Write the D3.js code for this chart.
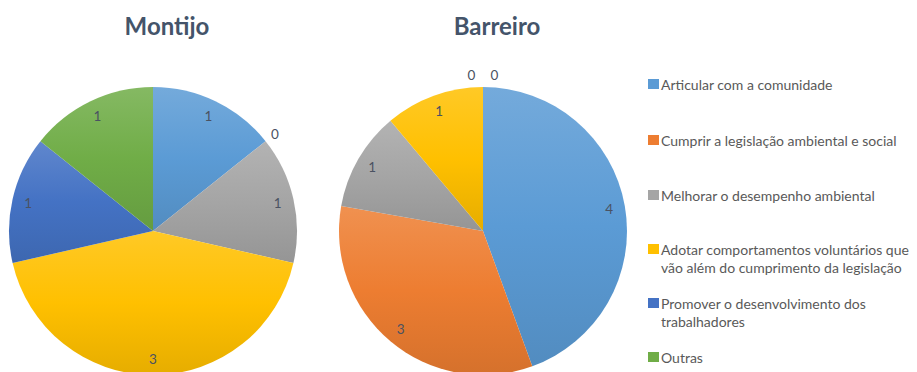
<!DOCTYPE html>
<html>
<head>
<meta charset="utf-8">
<script src="https://cdn.jsdelivr.net/npm/d3@7/dist/d3.min.js"></script>
<style>
  html, body { margin: 0; padding: 0; background: #ffffff; }
  svg { display: block; }
</style>
</head>
<body>
<svg id="chart" width="917" height="372"></svg>
<script>
// Motivations, in legend order
const categories = [
  "Articular com a comunidade",
  "Cumprir a legislação ambiental e social",
  "Melhorar o desempenho ambiental",
  "Adotar comportamentos voluntários que vão além do cumprimento da legislação",
  "Promover o desenvolvimento dos trabalhadores",
  "Outras"
];
// Legend text split into lines
const legendLines = [
  ["Articular com a comunidade"],
  ["Cumprir a legislação ambiental e social"],
  ["Melhorar o desempenho ambiental"],
  ["Adotar comportamentos voluntários que", "vão além do cumprimento da legislação"],
  ["Promover o desenvolvimento dos", "trabalhadores"],
  ["Outras"]
];
const colors = ["#5B9BD5", "#ED7D31", "#A5A5A5", "#FFC000", "#4472C4", "#70AD47"];

const montijoValues  = [1, 0, 1, 3, 1, 1];
const barreiroValues = [4, 3, 1, 1, 0, 0];

const FONT = "Lato, Open Sans, Noto Sans, sans-serif";

const svg = d3.select("#chart");
const defs = svg.append("defs");

// Vertical gradient per colour: lighter at top, slightly darker at bottom
colors.forEach((c, i) => {
  const g = defs.append("linearGradient")
    .attr("id", "grad" + i)
    .attr("x1", 0).attr("y1", 0).attr("x2", 0).attr("y2", 1);
  g.append("stop").attr("offset", "0%").attr("stop-color", d3.interpolateRgb(c, "#ffffff")(0.15));
  g.append("stop").attr("offset", "50%").attr("stop-color", c);
  g.append("stop").attr("offset", "100%").attr("stop-color", d3.interpolateRgb(c, "#000000")(0.1));
});

const pie = d3.pie().sort(null).value(d => d);
const R = 144;
const arc = d3.arc().innerRadius(0).outerRadius(R);
const labelArc = d3.arc().innerRadius(128).outerRadius(128);
const outerLabelArc = d3.arc().innerRadius(R + 12).outerRadius(R + 12);

function drawPie(title, values, cx, cy) {
  const g = svg.append("g").attr("transform", `translate(${cx},${cy})`);
  const arcs = pie(values);

  g.selectAll("path.slice")
    .data(arcs.filter(d => d.value > 0))
    .join("path")
    .attr("class", "slice")
    .attr("d", arc)
    .attr("fill", d => `url(#grad${d.index})`);

  // Data labels: inside for non-zero slices, just outside the rim for zero slices
  const zeroGroups = d3.group(arcs.filter(d => d.value === 0), d => d.startAngle.toFixed(4));
  const labels = arcs.map(d => {
    if (d.value > 0) {
      const [x, y] = labelArc.centroid(d);
      return { d, x, y };
    }
    const [x, y] = outerLabelArc.centroid(d);
    const grp = zeroGroups.get(d.startAngle.toFixed(4));
    const k = grp.indexOf(d);
    const spread = grp.length > 1 ? (k - (grp.length - 1) / 2) * 23 : 0;
    return { d, x: x + spread, y: y };
  });

  g.selectAll("text.lbl")
    .data(labels)
    .join("text")
    .attr("class", "lbl")
    .attr("x", l => l.x)
    .attr("y", l => l.y)
    .attr("text-anchor", "middle")
    .attr("dominant-baseline", "central")
    .attr("font-family", FONT)
    .attr("font-size", 13.5)
    .attr("fill", "#4a5262")
    .text(l => l.d.value);

  svg.append("text")
    .attr("x", cx + 14)
    .attr("y", 35)
    .attr("text-anchor", "middle")
    .attr("font-family", FONT)
    .attr("font-weight", "bold")
    .attr("font-size", 24)
    .attr("fill", "#44546A")
    .text(title);
}

drawPie("Montijo", montijoValues, 153, 231);
drawPie("Barreiro", barreiroValues, 483, 231);

// Legend
const legendY = [84, 140, 195, 249, 303, 357];
const legend = svg.append("g");
categories.forEach((c, i) => {
  legend.append("rect")
    .attr("x", 648).attr("y", legendY[i] - 5)
    .attr("width", 11).attr("height", 10)
    .attr("fill", colors[i]);
  const t = legend.append("text")
    .attr("font-family", FONT)
    .attr("font-size", 14)
    .attr("fill", "#595959");
  legendLines[i].forEach((line, j) => {
    t.append("tspan")
      .attr("x", 661)
      .attr("y", legendY[i] + j * 18.5)
      .attr("dominant-baseline", "central")
      .text(line);
  });
});
</script>
</body>
</html>
